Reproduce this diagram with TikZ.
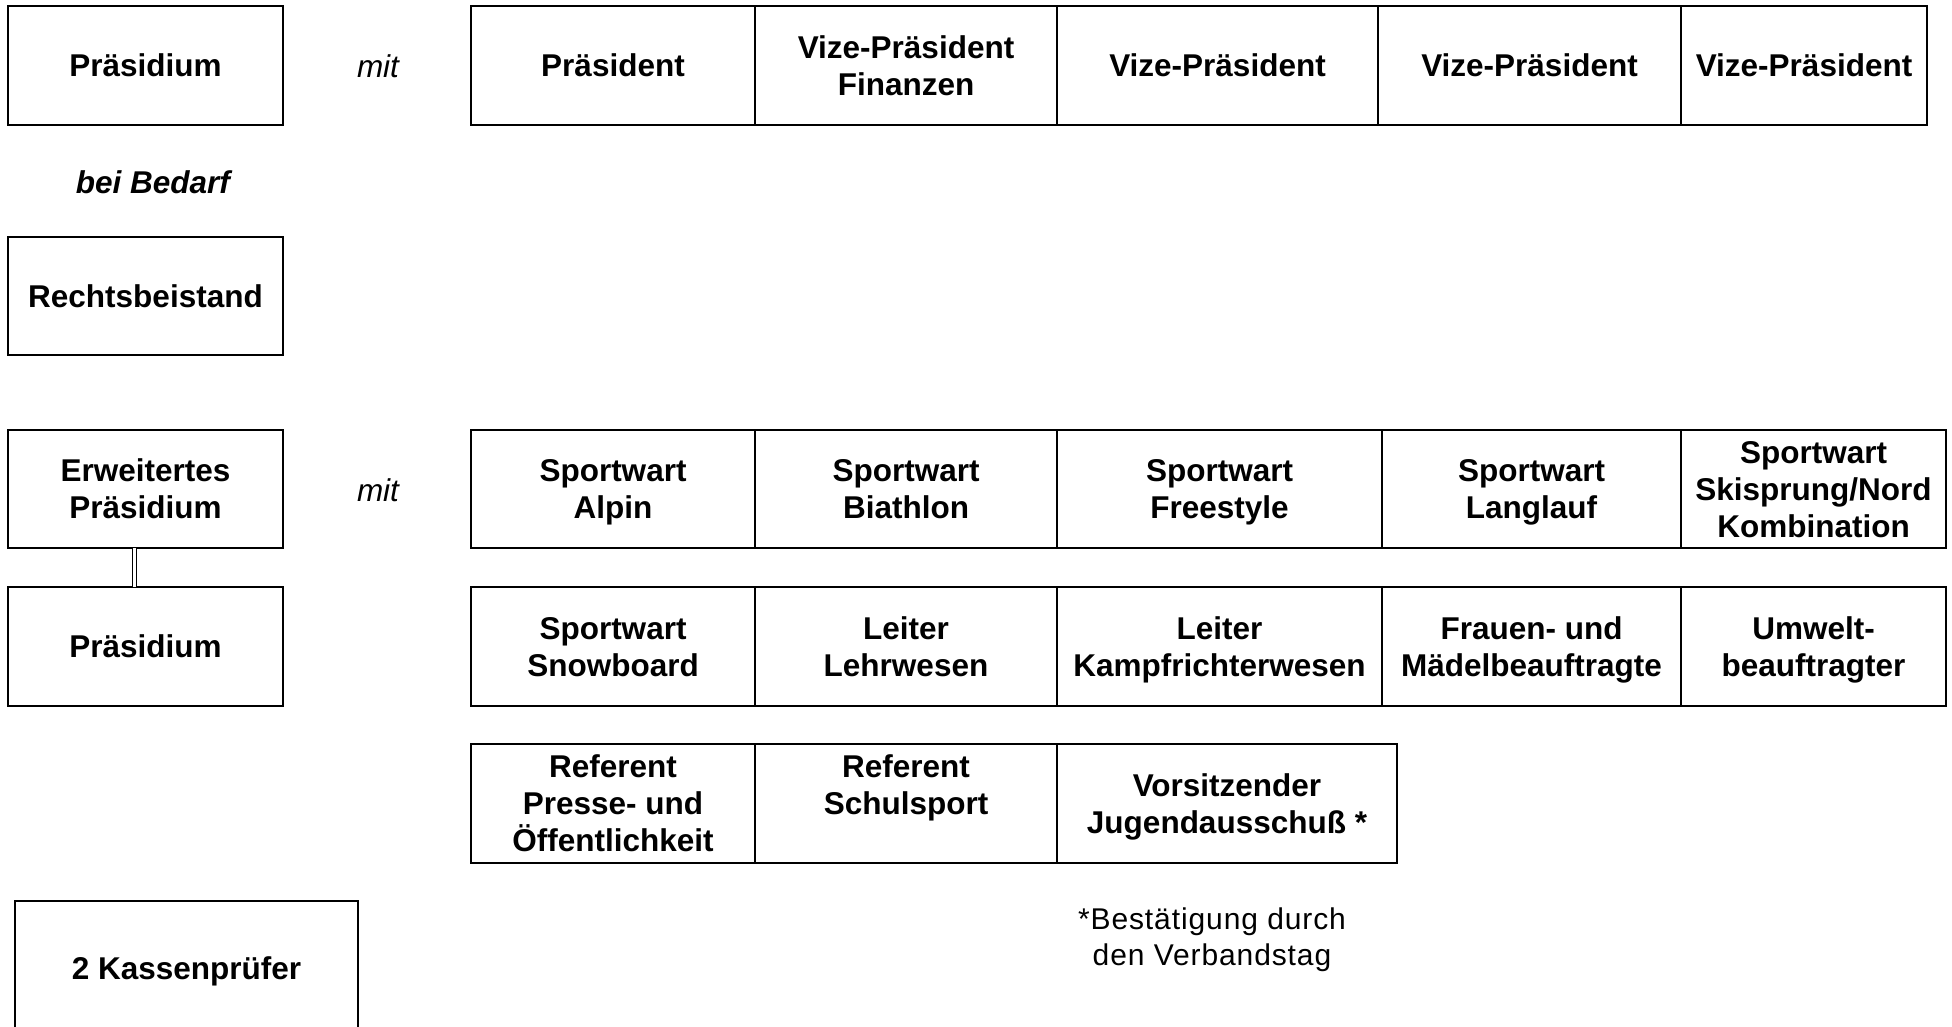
\documentclass[tikz,border=0pt]{standalone}
\usepackage{fontspec}
\setmainfont{Liberation Sans}
\newcommand{\cs}{\rule[-7.25pt]{0pt}{37pt}}
\newcommand{\fs}{\rule[-7.25pt]{0pt}{36pt}}
\begin{document}
\begin{tikzpicture}[x=1pt,y=-1pt,
  cell/.style={draw, line width=2pt, rectangle, inner sep=0pt, outer sep=0pt, align=center,
    font=\fontsize{31.5}{37}\selectfont\bfseries},
  mitlabel/.style={inner sep=0pt, font=\fontsize{31.5}{37}\selectfont\itshape},
  note/.style={inner sep=0pt, align=center, font=\fontsize{30}{36}\selectfont\addfontfeature{LetterSpace=3}}]
\useasboundingbox (0,0) rectangle (1952,1027);
% left column
\node[cell, minimum width=275pt, minimum height=119pt] (pra) at (145.5,65.5) {\cs Präsidium};
\node[inner sep=0pt, font=\fontsize{31.5}{37}\selectfont\bfseries\itshape] (bed) at (153,182) {\cs bei Bedarf};
\node[cell, minimum width=275pt, minimum height=118pt] (rb) at (145.5,296) {\cs Rechtsbeistand};
\node[cell, minimum width=275pt, minimum height=118pt] (erw) at (145.5,489) {\cs Erweitertes\\\cs Präsidium};
\node[cell, minimum width=275pt, minimum height=119pt] (pr2) at (145.5,646.5) {\cs Präsidium};
\node[cell, minimum width=343pt, minimum height=134pt] (kp) at (186.5,968) {\cs 2 Kassenprüfer};
\draw[double, double distance=3pt, line width=1pt] ([xshift=-11.5pt]erw.south) -- ([xshift=-11.5pt]pr2.north);
% mit labels
\node[mitlabel] (mit1) at (378,66.5) {\cs mit};
\node[mitlabel] (mit2) at (378,490) {\cs mit};
% row 1
\node[cell, minimum width=284pt, minimum height=119pt] (r1a) at (613,65.5) {\cs Präsident};
\node[cell, minimum width=302pt, minimum height=119pt] (r1b) at (906,65.5) {\cs Vize-Präsident\\\cs Finanzen};
\node[cell, minimum width=321pt, minimum height=119pt] (r1c) at (1217.5,65.5) {\cs Vize-Präsident};
\node[cell, minimum width=303pt, minimum height=119pt] (r1d) at (1529.5,65.5) {\cs Vize-Präsident};
\node[cell, minimum width=246pt, minimum height=119pt] (r1e) at (1804,65.5) {\cs Vize-Präsident};
% row 2
\node[cell, minimum width=284pt, minimum height=118pt] (r2a) at (613,489) {\cs Sportwart\\\cs Alpin};
\node[cell, minimum width=302pt, minimum height=118pt] (r2b) at (906,489) {\cs Sportwart\\\cs Biathlon};
\node[cell, minimum width=325pt, minimum height=118pt] (r2c) at (1219.5,489) {\cs Sportwart\\\cs Freestyle};
\node[cell, minimum width=299pt, minimum height=118pt] (r2d) at (1531.5,489) {\cs Sportwart\\\cs Langlauf};
\node[cell, minimum width=265pt, minimum height=118pt] (r2e) at (1813.5,489) {\cs Sportwart\\\cs Skisprung/Nord\\\cs Kombination};
% row 3
\node[cell, minimum width=284pt, minimum height=119pt] (r3a) at (613,646.5) {\cs Sportwart\\\cs Snowboard};
\node[cell, minimum width=302pt, minimum height=119pt] (r3b) at (906,646.5) {\cs Leiter\\\cs Lehrwesen};
\node[cell, minimum width=325pt, minimum height=119pt] (r3c) at (1219.5,646.5) {\cs Leiter\\\cs Kampfrichterwesen};
\node[cell, minimum width=299pt, minimum height=119pt] (r3d) at (1531.5,646.5) {\cs Frauen- und\\\cs Mädelbeauftragte};
\node[cell, minimum width=265pt, minimum height=119pt] (r3e) at (1813.5,646.5) {\cs Umwelt-\\\cs beauftragter};
% row 4
\node[cell, minimum width=284pt, minimum height=119pt] (r4a) at (613,803.5) {\cs Referent\\\cs Presse- und\\\cs Öffentlichkeit};
\node[cell, minimum width=302pt, minimum height=119pt] (r4b) at (906,803.5) {\cs Referent\\\cs Schulsport\\\cs};
\node[cell, minimum width=340pt, minimum height=119pt] (r4c) at (1227,803.5) {\cs Vorsitzender\\\cs Jugendausschuß *};
% footnote
\node[note] (fn) at (1212,937) {\fs *Bestätigung durch\\\fs den Verbandstag};
\end{tikzpicture}
\end{document}
